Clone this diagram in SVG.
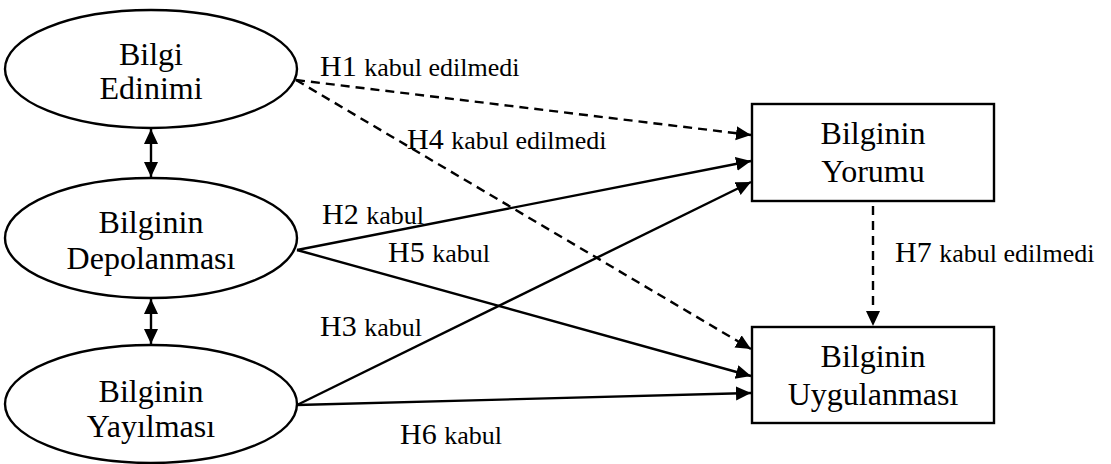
<svg xmlns="http://www.w3.org/2000/svg" width="1111" height="464" viewBox="0 0 1111 464">
  <style>
    .node { fill: #ffffff; stroke: #000000; stroke-width: 2.4; }
    .title { font-family: "Liberation Serif", "Times New Roman", serif; font-size: 32px; fill: #000000; text-anchor: middle; }
    .lab { font-family: "Liberation Serif", "Times New Roman", serif; font-size: 30px; fill: #000000; }
    .lab tspan.s { font-size: 26px; }
    .edge { fill: none; stroke: #000000; stroke-width: 2.4; marker-end: url(#arrow); }
    .dash { stroke-dasharray: 9 6; }
    .both { marker-start: url(#arrow); }
  </style>
  <defs>
    <marker id="arrow" markerUnits="userSpaceOnUse" markerWidth="16" markerHeight="15" refX="15" refY="7" orient="auto-start-reverse">
      <path d="M0,0 L15,7 L0,14 Z" fill="#000000"/>
    </marker>
  </defs>
  <rect width="1111" height="464" fill="#ffffff"/>

  <!-- connectors -->
  <g id="connectors">
    <line class="edge both" x1="151" y1="129" x2="151" y2="177"/>
    <line class="edge both" x1="151" y1="299" x2="151" y2="344"/>
    <line class="edge dash" x1="296" y1="80" x2="751" y2="135"/>
    <line class="edge dash" x1="296" y1="80" x2="751" y2="349"/>
    <line class="edge" x1="297" y1="250" x2="751" y2="161"/>
    <line class="edge" x1="297" y1="250" x2="751" y2="376"/>
    <line class="edge" x1="297" y1="405" x2="751" y2="182"/>
    <line class="edge" x1="297" y1="405" x2="751" y2="393"/>
    <line class="edge dash" x1="873" y1="206" x2="873" y2="326"/>
  </g>

  <!-- connector labels -->
  <g id="labels">
    <text class="lab" x="320" y="76">H1 <tspan class="s">kabul edilmedi</tspan></text>
    <text class="lab" x="407" y="149">H4 <tspan class="s">kabul edilmedi</tspan></text>
    <text class="lab" x="322" y="224">H2 <tspan class="s">kabul</tspan></text>
    <text class="lab" x="388" y="262">H5 <tspan class="s">kabul</tspan></text>
    <text class="lab" x="320" y="336">H3 <tspan class="s">kabul</tspan></text>
    <text class="lab" x="400" y="444">H6 <tspan class="s">kabul</tspan></text>
    <text class="lab" x="895" y="262">H7 <tspan class="s">kabul edilmedi</tspan></text>
  </g>

  <g id="bilgi-edinimi">
    <ellipse class="node" cx="151" cy="69" rx="146" ry="59"/>
    <text class="title" x="151" y="65">Bilgi</text>
    <text class="title" x="151" y="99">Edinimi</text>
  </g>

  <g id="bilginin-depolanmasi">
    <ellipse class="node" cx="151" cy="238" rx="146" ry="60"/>
    <text class="title" x="151" y="233">Bilginin</text>
    <text class="title" x="151" y="269">Depolanması</text>
  </g>

  <g id="bilginin-yayilmasi">
    <ellipse class="node" cx="151" cy="404" rx="146" ry="59"/>
    <text class="title" x="151" y="402">Bilginin</text>
    <text class="title" x="151" y="437">Yayılması</text>
  </g>

  <g id="bilginin-yorumu">
    <rect class="node" x="752" y="104" width="242" height="97"/>
    <text class="title" x="873" y="144">Bilginin</text>
    <text class="title" x="873" y="182">Yorumu</text>
  </g>

  <g id="bilginin-uygulanmasi">
    <rect class="node" x="752" y="327" width="242" height="96"/>
    <text class="title" x="873" y="367">Bilginin</text>
    <text class="title" x="873" y="405">Uygulanması</text>
  </g>
</svg>
